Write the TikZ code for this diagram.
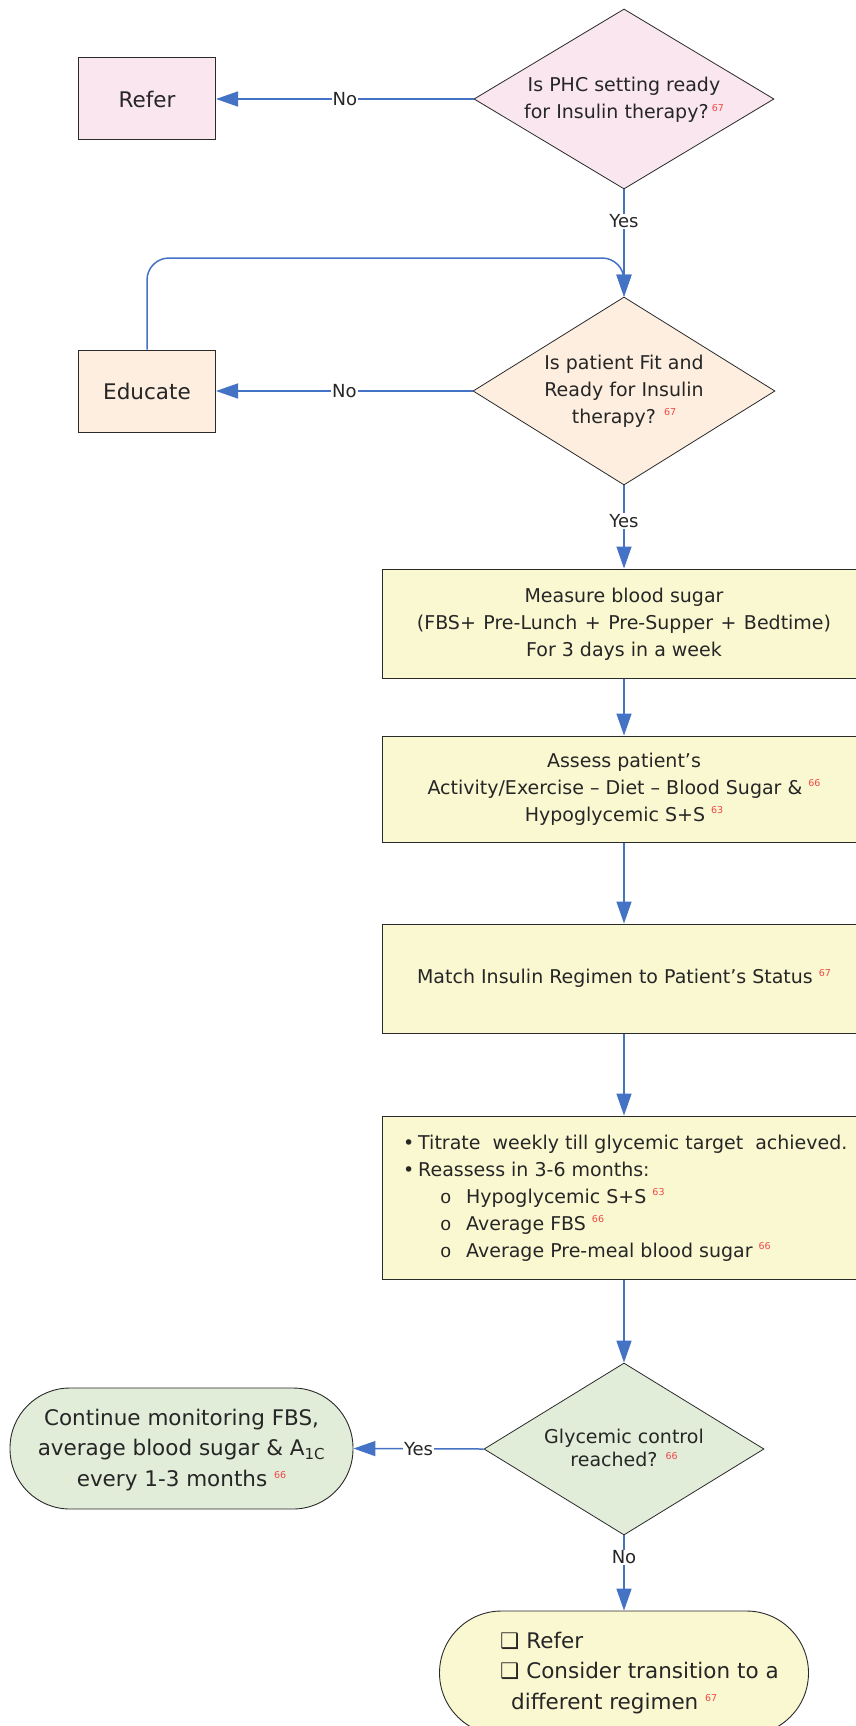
\documentclass[tikz,border=0pt]{standalone}
\usepackage{fontspec}
\setmainfont{DejaVu Sans}
\newfontfamily\monofam{Liberation Mono}
\usetikzlibrary{shapes.geometric,arrows.meta}
\definecolor{flowblue}{HTML}{4472C4}
\definecolor{pinkfill}{HTML}{F9E6EF}
\definecolor{peachfill}{HTML}{FDEEDF}
\definecolor{creamfill}{HTML}{FAF8D1}
\definecolor{greenfill}{HTML}{E1EDD9}
\definecolor{refred}{HTML}{F04848}
\definecolor{edgegray}{HTML}{2A2A2A}
% small red reference number
\newcommand{\refnum}[1]{\raisebox{7.5pt}{\fontsize{9.5}{9.5}\selectfont\color{refred}#1}}
\newcommand{\bodyfont}{\fontsize{19}{27}\selectfont}
\newcommand{\bigfont}{\fontsize{21.5}{30.5}\selectfont}
\newcommand{\wsp}{\hspace{7.5pt}}
\begin{document}
\begin{tikzpicture}[x=1pt,y=-1pt,
  procbox/.style={draw=edgegray, line width=1pt, rectangle, inner sep=0pt},
  termbox/.style={draw=edgegray, line width=0.9pt, rectangle, inner sep=0pt},
  decision/.style={draw=edgegray, line width=0.8pt, diamond, inner sep=0pt},
  txt/.style={inner sep=0pt, align=center, font=\bodyfont, text=black!85},
  flow/.style={draw=flowblue, line width=1.5pt, -{Triangle[length=22pt,width=15pt]}},
  lbl/.style={fill=white, inner sep=1pt, font=\fontsize{18}{18}\selectfont, text=black!85}
]
\useasboundingbox (0,0) rectangle (856,1726);
\clip (0,0) rectangle (856,1726);

% first decision and its "No" branch
\node[procbox, fill=pinkfill, minimum width=137, minimum height=82] (refer) at (147,99) {};
\node[txt, font=\bigfont] (refert) at (refer) {Refer};
\node[decision, fill=pinkfill, minimum width=300, minimum height=180] (d1) at (624,99) {};
\node[txt] (d1t) at (624,100) {Is PHC setting ready\\for Insulin therapy?\,\refnum{67}};

% second decision and education loop
\node[procbox, fill=peachfill, minimum width=137, minimum height=82] (educate) at (147,391) {};
\node[txt, font=\bigfont] (educatet) at (educate) {Educate};
\node[decision, fill=peachfill, minimum width=302, minimum height=188] (d2) at (624,391) {};
\node[txt] (d2t) at (624,391) {Is patient Fit and\\Ready for Insulin\\therapy? \refnum{67}};

% process steps
\node[procbox, fill=creamfill, minimum width=484, minimum height=109] (measure) at (624,623.5) {};
\node[txt] (measuret) at (624,624) {Measure blood sugar\\(FBS+\wsp Pre-Lunch\wsp +\wsp Pre-Supper\wsp +\wsp Bedtime)\\For 3 days in a week};

\node[procbox, fill=creamfill, minimum width=484, minimum height=106] (assess) at (624,789) {};
\node[txt] (assesst) at (624,789) {Assess patient’s\\Activity/Exercise – Diet – Blood Sugar \& \refnum{66}\\Hypoglycemic S+S \refnum{63}};

\node[procbox, fill=creamfill, minimum width=484, minimum height=109] (match) at (624,978.5) {};
\node[txt] (matcht) at (624,978.5) {Match Insulin Regimen to Patient’s Status \refnum{67}};

\node[procbox, fill=creamfill, minimum width=484, minimum height=163] (titrate) at (624,1197.5) {};
\node[txt, align=left, anchor=west] (titratet) at (403,1198) {%
\makebox[15pt][l]{•}Titrate\ \ weekly till glycemic target\ \ achieved.\\
\makebox[15pt][l]{•}Reassess in 3-6 months:\\
\hspace*{37pt}\makebox[26pt][l]{\monofam o}Hypoglycemic S+S \refnum{63}\\
\hspace*{37pt}\makebox[26pt][l]{\monofam o}Average FBS \refnum{66}\\
\hspace*{37pt}\makebox[26pt][l]{\monofam o}Average Pre-meal blood sugar \refnum{66}};

% final decision and outcomes
\node[decision, fill=greenfill, minimum width=280, minimum height=172] (d3) at (624,1449) {};
\node[txt, font=\fontsize{19}{23}\selectfont] (d3t) at (624,1448) {Glycemic control\\reached? \refnum{66}};

\node[termbox, fill=greenfill, minimum width=343, minimum height=121, rounded corners=60] (cont) at (181.5,1448.5) {};
\node[txt, font=\bigfont] (contt) at (181.5,1450) {Continue monitoring FBS,\\average blood sugar \& A\textsubscript{1C}\\every 1-3 months \refnum{66}};

\node[termbox, fill=creamfill, minimum width=369, minimum height=124, rounded corners=62] (refer2) at (624,1673) {};
\node[txt, font=\bigfont, align=left, anchor=west] (refer2t) at (500,1673) {❑ Refer\\❑ Consider transition to a\\\hspace*{11pt}different regimen \refnum{67}};

% connectors
\draw[flow] (d1.west) -- node[lbl, pos=0.5] {No} (refer.east);
\draw[flow] (d1.south) -- node[lbl, pos=0.3] {Yes} (d2.north);
\coordinate (loopturn) at (624,258);
\draw[flow, rounded corners=22] (educate.north) |- (loopturn) -- (d2.north);
\draw[flow] (d2.west) -- node[lbl, pos=0.5] {No} (educate.east);
\draw[flow] (d2.south) -- node[lbl, pos=0.43] {Yes} (measure.north);
\draw[flow] (measure.south) -- (assess.north);
\draw[flow] (assess.south) -- (match.north);
\draw[flow] (match.south) -- (titrate.north);
\draw[flow] (titrate.south) -- (d3.north);
\draw[flow] (d3.west) -- node[lbl, pos=0.5] {Yes} (cont.east);
\draw[flow] (d3.south) -- node[lbl, pos=0.29] {No} (refer2.north);
\end{tikzpicture}
\end{document}
